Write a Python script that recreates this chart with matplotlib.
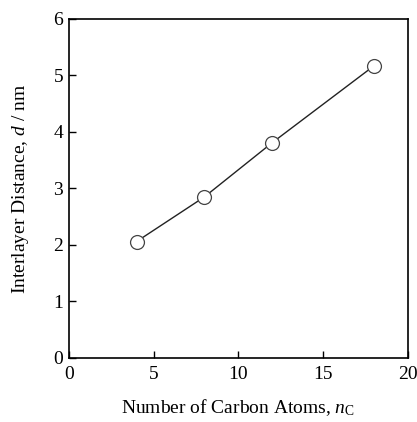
import matplotlib
matplotlib.use("Agg")
import matplotlib.pyplot as plt

n_carbon = [4, 8, 12, 18]
distance = [2.06, 2.85, 3.81, 5.17]
x_ticks = [0, 5, 10, 15, 20]
y_ticks = [0, 1, 2, 3, 4, 5, 6]

plt.rcParams['font.family'] = ['Liberation Serif', 'DejaVu Serif']
plt.rcParams['mathtext.fontset'] = 'custom'
plt.rcParams['mathtext.rm'] = 'Liberation Serif'
plt.rcParams['mathtext.it'] = 'Liberation Serif:italic'

fig = plt.figure(figsize=(4.17, 4.22), dpi=100)
ax = fig.add_axes([0.165, 0.152, 0.813, 0.803])
ax.plot(n_carbon, distance, color='#222222', lw=1.0, marker='o', ms=10,
        mfc='white', mec='#444444', mew=0.9)
ax.set_xlim(0, 20)
ax.set_ylim(0, 6)
ax.set_xticks(x_ticks)
ax.set_yticks(y_ticks)
ax.tick_params(direction='in', length=5, width=1, labelsize=14)
ax.tick_params(axis='x', pad=6)
ax.tick_params(axis='y', pad=4)
for s in ax.spines.values():
    s.set_linewidth(1.2)
ax.set_xlabel('Number of Carbon Atoms, $n_\\mathrm{C}$', fontsize=14, labelpad=10)
ax.set_ylabel('Interlayer Distance, $d$ / nm', fontsize=14, labelpad=16)
fig.savefig('out.png', dpi=100)
